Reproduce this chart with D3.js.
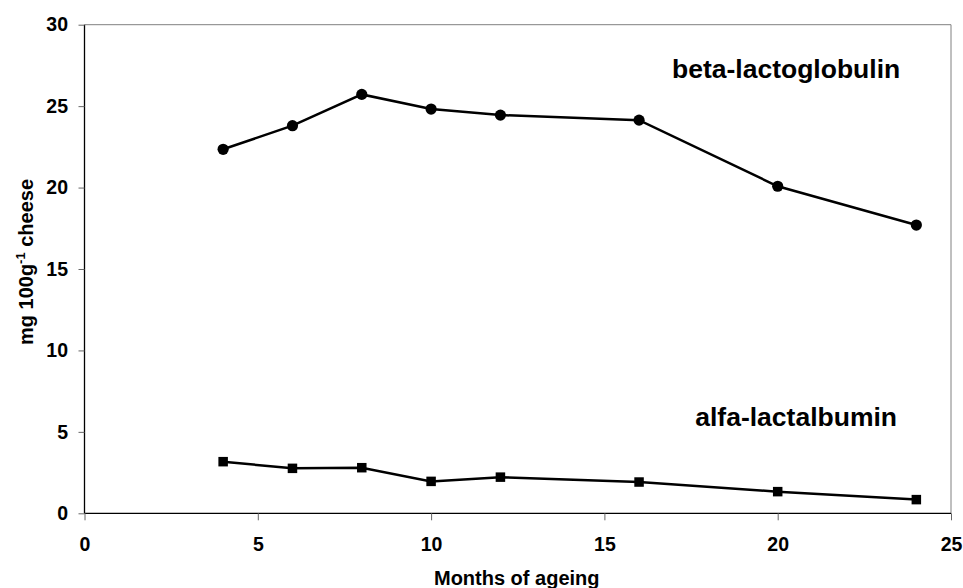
<!DOCTYPE html>
<html>
<head>
<meta charset="utf-8">
<script src="https://cdn.jsdelivr.net/npm/d3@7"></script>
<style>
  html, body { margin: 0; padding: 0; background: #fff; }
  svg text { font-family: "Liberation Sans", Arial, sans-serif; font-weight: bold; fill: #000; }
</style>
</head>
<body>
<svg id="chart" width="963" height="588"></svg>
<script>
// Months of ageing at which samples were taken
const months = [4, 6, 8, 10, 12, 16, 20, 24];
// Whey protein content, mg per 100 g cheese
const betaLactoglobulin = [22.35, 23.8, 25.72, 24.82, 24.45, 24.14, 20.08, 17.7];
const alfaLactalbumin = [3.17, 2.76, 2.80, 1.96, 2.22, 1.92, 1.33, 0.84];
const xTicks = [0, 5, 10, 15, 20, 25];
const yTicks = [0, 5, 10, 15, 20, 25, 30];

const svg = d3.select("#chart");
const plotLeft = 84.5, plotRight = 951, plotTop = 24.7, plotBottom = 513.3;

const x = d3.scaleLinear().domain([0, 25]).range([plotLeft, plotRight]);
const y = d3.scaleLinear().domain([0, 30]).range([plotBottom, plotTop]);

// Plot frame: grey on top and right
svg.append("line").attr("x1", plotLeft).attr("x2", plotRight).attr("y1", plotTop).attr("y2", plotTop)
  .attr("stroke", "#808080").attr("stroke-width", 1);
svg.append("line").attr("x1", plotRight).attr("x2", plotRight).attr("y1", plotTop).attr("y2", plotBottom)
  .attr("stroke", "#808080").attr("stroke-width", 1);

// Axes
const yAxis = svg.append("g").attr("transform", `translate(${plotLeft},0)`)
  .call(d3.axisLeft(y).tickValues(yTicks).tickSize(6).tickPadding(10.5).tickFormat(d3.format("d")));
const xAxis = svg.append("g").attr("transform", `translate(0,${plotBottom})`)
  .call(d3.axisBottom(x).tickValues(xTicks).tickSize(7).tickPadding(16.5).tickFormat(d3.format("d")));

[yAxis, xAxis].forEach(g => {
  g.select(".domain").attr("stroke", "#000").attr("stroke-width", 1.3);
  g.selectAll(".tick line").attr("stroke", "#666").attr("stroke-width", 1);
  g.selectAll(".tick text").style("font-size", "19.5px").attr("fill", "#000");
});
// Plain domain lines without end caps
yAxis.select(".domain").attr("d", `M0,${plotTop}V${plotBottom}`);
xAxis.select(".domain").attr("d", `M${plotLeft},0H${plotRight}`);

// Axis titles
svg.append("text").attr("x", (plotLeft + plotRight) / 2 - 1).attr("y", 585)
  .attr("text-anchor", "middle").style("font-size", "20px").text("Months of ageing");

const yTitle = svg.append("text")
  .attr("transform", "translate(33,262) rotate(-90)")
  .attr("text-anchor", "middle").style("font-size", "20px");
yTitle.append("tspan").text("mg 100g");
yTitle.append("tspan").attr("dy", "-8").style("font-size", "13px").text("-1");
yTitle.append("tspan").attr("dy", "8").text(" cheese");

// Series
const line = d3.line().x((d, i) => x(months[i])).y(d => y(d));

svg.append("path").datum(betaLactoglobulin).attr("d", line)
  .attr("fill", "none").attr("stroke", "#000").attr("stroke-width", 2.5);
svg.append("path").datum(alfaLactalbumin).attr("d", line)
  .attr("fill", "none").attr("stroke", "#000").attr("stroke-width", 2.5);

svg.selectAll("circle.beta").data(betaLactoglobulin).enter().append("circle")
  .attr("class", "beta")
  .attr("cx", (d, i) => x(months[i])).attr("cy", d => y(d)).attr("r", 5.6).attr("fill", "#000");

const sq = 9.5;
svg.selectAll("rect.alfa").data(alfaLactalbumin).enter().append("rect")
  .attr("class", "alfa")
  .attr("x", (d, i) => x(months[i]) - sq / 2).attr("y", d => y(d) - sq / 2)
  .attr("width", sq).attr("height", sq).attr("fill", "#000");

// Series labels
svg.append("text").attr("x", 672).attr("y", 78).style("font-size", "26.5px").text("beta-lactoglobulin");
svg.append("text").attr("x", 897).attr("y", 426).attr("text-anchor", "end")
  .style("font-size", "26.5px").text("alfa-lactalbumin");
</script>
</body>
</html>
